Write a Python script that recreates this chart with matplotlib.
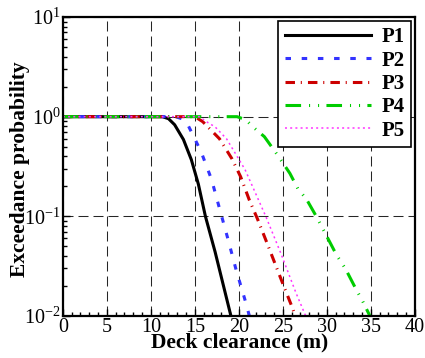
import matplotlib

matplotlib.use("Agg")

import matplotlib.pyplot as plt  # noqa: E402
from matplotlib.ticker import FixedLocator, LogLocator, NullFormatter  # noqa: E402

# exceedance curves
p1_x = [0, 11.3, 12.0, 12.7, 13.7, 14.6, 15.4, 16.2, 17.3, 19.1]
p1_y = [1.0, 1.0, 0.955, 0.83, 0.59, 0.37, 0.21, 0.10, 0.044, 0.01]

p2_x = [0, 12.8, 13.5, 14.2, 15.7, 16.9, 17.8, 18.8, 19.7, 20.7, 21.2]
p2_y = [1.0, 1.0, 0.955, 0.83, 0.447, 0.234, 0.12, 0.0575, 0.0288, 0.0145, 0.01]

p3_x = [0, 15.0, 15.9, 17.8, 19.2, 20.2, 21.2, 22.1, 23.2, 24.2, 25.1, 26.1, 26.4]
p3_y = [1.0, 1.0, 0.89, 0.60, 0.38, 0.25, 0.145, 0.095, 0.054, 0.032, 0.020, 0.012, 0.01]

p4_x = [0, 19.8, 20.8, 21.6, 22.9, 24.5, 25.8, 26.7, 27.7, 28.8, 29.8, 31.1, 32.1, 33.4, 34.0, 34.9]
p4_y = [1.0, 1.0, 0.93, 0.79, 0.63, 0.40, 0.27, 0.19, 0.148, 0.10, 0.068, 0.041, 0.030, 0.018, 0.0145, 0.01]

p5_x = [0, 15.5, 16.5, 17.3, 18.6, 20.7, 23.06, 24.8, 26.5, 27.6]
p5_y = [1.0, 1.0, 0.87, 0.79, 0.60, 0.295, 0.10, 0.042, 0.017, 0.01]

labels = ["P1", "P2", "P3", "P4", "P5"]
x_ticks = [0, 5, 10, 15, 20, 25, 30, 35, 40]

plt.rcParams["font.family"] = ["Liberation Serif", "DejaVu Serif"]
plt.rcParams["mathtext.fontset"] = "stix"

fig = plt.figure(figsize=(4.25, 3.58), dpi=100)
ax = fig.add_axes([0.148, 0.1173, 0.828, 0.8352])

ax.plot(p1_x, p1_y, color="black", lw=2.2, ls="-", label=labels[0])
ax.plot(p2_x, p2_y, color="#3333ff", lw=2.2, ls=(0, (1.8, 3.5)), label=labels[1])
ax.plot(p3_x, p3_y, color="#cc0000", lw=2.2, ls=(0, (3.1, 1.9, 0.35, 2.0)), label=labels[2])
ax.plot(p4_x, p4_y, color="#00cc00", lw=2.2,
        ls=(0, (5.1, 2.6, 0.35, 2.6, 0.35, 2.4)), label=labels[3])
ax.plot(p5_x, p5_y, color="#ff33ff", lw=1.1, ls=(0, (1.3, 2.1)), label=labels[4])

ax.set_yscale("log")
ax.set_xlim(0, 40)
ax.set_ylim(1e-2, 1e1)
ax.xaxis.set_major_locator(FixedLocator(x_ticks))
ax.xaxis.set_minor_locator(FixedLocator(range(0, 41)))
ax.yaxis.set_major_locator(LogLocator(base=10, numticks=10))
ax.yaxis.set_minor_locator(LogLocator(base=10, subs=range(2, 10), numticks=20))
ax.yaxis.set_minor_formatter(NullFormatter())

ax.grid(True, which="major", color="0.15", lw=0.75, ls=(0, (9.6, 4.8)))

ax.tick_params(which="both", direction="in", top=False, right=False,
               labelsize=14.5, width=1.0)
ax.tick_params(which="major", length=5, pad=1.5)
ax.tick_params(which="minor", length=2.8)
for s in ax.spines.values():
    s.set_linewidth(1.6)

ax.set_xlabel("Deck clearance (m)", fontsize=15.5, fontweight="bold")
ax.set_ylabel("Exceedance probability", fontsize=15.5, fontweight="bold")
ax.xaxis.set_label_coords(0.503, -0.056)
ax.yaxis.set_label_coords(-0.094, 0.49)

leg = ax.legend(loc="upper right", handlelength=4.13, handletextpad=0.5,
                labelspacing=0.16, borderpad=0.3, borderaxespad=0.2,
                fancybox=False, framealpha=1, edgecolor="black",
                prop={"weight": "bold", "size": 15})
leg.get_frame().set_linewidth(1.2)

fig.savefig("out.png", dpi=100)
